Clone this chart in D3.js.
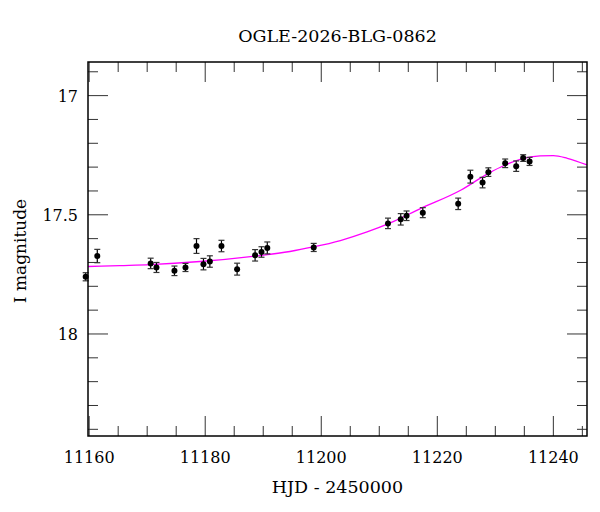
<!DOCTYPE html>
<html>
<head>
<meta charset="utf-8">
<script src="https://cdn.jsdelivr.net/npm/d3@7"></script>
<style>
  body { margin: 0; background: white; }
  text { font-family: "DejaVu Serif", serif; fill: black; }
</style>
</head>
<body>
<svg id="chart" width="600" height="512"></svg>
<script>
// observed photometry
var obs_hjd = [11159.4, 11161.4, 11170.6, 11171.6, 11174.7, 11176.6, 11178.5, 11179.7, 11180.8,
               11182.8, 11185.5, 11188.6, 11189.7, 11190.7, 11198.7, 11211.5, 11213.7, 11214.7,
               11217.5, 11223.6, 11225.7, 11227.8, 11228.8, 11231.7, 11233.6, 11234.8, 11235.9];
var obs_mag = [17.760, 17.673, 17.704, 17.721, 17.735, 17.721, 17.631, 17.707, 17.696,
               17.631, 17.728, 17.670, 17.656, 17.639, 17.637, 17.536, 17.519, 17.504,
               17.491, 17.454, 17.340, 17.365, 17.321, 17.284, 17.296, 17.262, 17.276];
var obs_err = [0.017, 0.028, 0.022, 0.021, 0.020, 0.017, 0.031, 0.024, 0.024,
               0.024, 0.025, 0.024, 0.022, 0.025, 0.017, 0.022, 0.024, 0.020,
               0.021, 0.024, 0.027, 0.022, 0.018, 0.018, 0.022, 0.014, 0.017];

// model curve
var model_hjd = [11159.8, 11165.3, 11170.5, 11179.1, 11188.6, 11194.6, 11198.6, 11203.3, 11207.9,
                 11211.9, 11217.0, 11224.1, 11228.8, 11231.7, 11234.3, 11237.7, 11240.0, 11242.4, 11245.8];
var model_mag = [17.717, 17.713, 17.709, 17.696, 17.673, 17.654, 17.635, 17.608, 17.572,
                 17.534, 17.475, 17.396, 17.326, 17.291, 17.267, 17.253, 17.252, 17.263, 17.291];

var x_major = [11160, 11180, 11200, 11220, 11240];
var y_major = [17, 17.5, 18];
var title = "OGLE-2026-BLG-0862";

var margin = {left: 88, top: 62, right: 13, bottom: 76};
var width = 600 - margin.left - margin.right;
var height = 512 - margin.top - margin.bottom;

var svg = d3.select('#chart');
var chart = svg.append('g')
    .attr('transform', 'translate(' + margin.left + ',' + margin.top + ')');

var xs = d3.scaleLinear().domain([11159.8, 11245.8]).range([0, width]);
var ys = d3.scaleLinear().domain([16.859, 18.428]).range([0, height]);

var x_minor = d3.range(11160, 11246, 5).filter(d => x_major.indexOf(d) < 0);
var y_minor = d3.range(169, 185).map(d => d / 10).filter(d => y_major.indexOf(d) < 0);

var tick_color = '#333';
function tick_lines(vals, len, horiz) {
    vals.forEach(function(v) {
        if (horiz) {
            chart.append('line').attr('x1', xs(v)).attr('x2', xs(v)).attr('y1', height).attr('y2', height - len)
                .attr('stroke', tick_color).attr('stroke-width', 1);
            chart.append('line').attr('x1', xs(v)).attr('x2', xs(v)).attr('y1', 0).attr('y2', len)
                .attr('stroke', tick_color).attr('stroke-width', 1);
        } else {
            chart.append('line').attr('x1', 0).attr('x2', len).attr('y1', ys(v)).attr('y2', ys(v))
                .attr('stroke', tick_color).attr('stroke-width', 1);
            chart.append('line').attr('x1', width).attr('x2', width - len).attr('y1', ys(v)).attr('y2', ys(v))
                .attr('stroke', tick_color).attr('stroke-width', 1);
        }
    });
}
tick_lines(x_major, 20, true);
tick_lines(x_minor, 10, true);
tick_lines(y_major, 20, false);
tick_lines(y_minor, 10, false);

// tick labels
chart.selectAll('.xlab').data(x_major).enter().append('text')
    .attr('x', d => xs(d))
    .attr('y', height + 27)
    .attr('text-anchor', 'middle')
    .style('font-size', '16px')
    .text(d => d);

chart.selectAll('.ylab').data(y_major).enter().append('text')
    .attr('x', -10)
    .attr('y', d => ys(d) + 6)
    .attr('text-anchor', 'end')
    .style('font-size', '16px')
    .text(d => d);

// model
chart.append('path')
    .datum(model_hjd.map((d, i) => [d, model_mag[i]]))
    .attr('fill', 'none')
    .attr('stroke', '#ff00ff')
    .attr('stroke-width', 1.3)
    .attr('d', d3.line().x(d => xs(d[0])).y(d => ys(d[1])).curve(d3.curveMonotoneX));

// data with error bars
var pts = obs_hjd.map((d, i) => ({t: d, m: obs_mag[i], e: obs_err[i]}));
var eb = chart.selectAll('.eb').data(pts).enter().append('g');
eb.append('line')
    .attr('x1', d => xs(d.t)).attr('x2', d => xs(d.t))
    .attr('y1', d => ys(d.m - d.e)).attr('y2', d => ys(d.m + d.e))
    .attr('stroke', 'black').attr('stroke-width', 1.2);
eb.append('line')
    .attr('x1', d => xs(d.t) - 3).attr('x2', d => xs(d.t) + 3)
    .attr('y1', d => ys(d.m - d.e)).attr('y2', d => ys(d.m - d.e))
    .attr('stroke', '#333').attr('stroke-width', 1.2);
eb.append('line')
    .attr('x1', d => xs(d.t) - 3).attr('x2', d => xs(d.t) + 3)
    .attr('y1', d => ys(d.m + d.e)).attr('y2', d => ys(d.m + d.e))
    .attr('stroke', '#333').attr('stroke-width', 1.2);
eb.append('circle')
    .attr('cx', d => xs(d.t)).attr('cy', d => ys(d.m))
    .attr('r', 3)
    .attr('fill', 'black');

// frame
chart.append('rect')
    .attr('width', width).attr('height', height)
    .attr('fill', 'none').attr('stroke', 'black').attr('stroke-width', 1.5);

// titles
svg.append('text')
    .attr('x', margin.left + width / 2)
    .attr('y', 42)
    .attr('text-anchor', 'middle')
    .style('font-size', '17.5px')
    .text(title);

svg.append('text')
    .attr('x', margin.left + width / 2)
    .attr('y', 493)
    .attr('text-anchor', 'middle')
    .style('font-size', '17.5px')
    .text('HJD - 2450000');

svg.append('text')
    .attr('transform', 'translate(26,' + (margin.top + height / 2 + 2) + ') rotate(-90)')
    .attr('text-anchor', 'middle')
    .style('font-size', '17px')
    .text('I magnitude');
</script>
</body>
</html>
